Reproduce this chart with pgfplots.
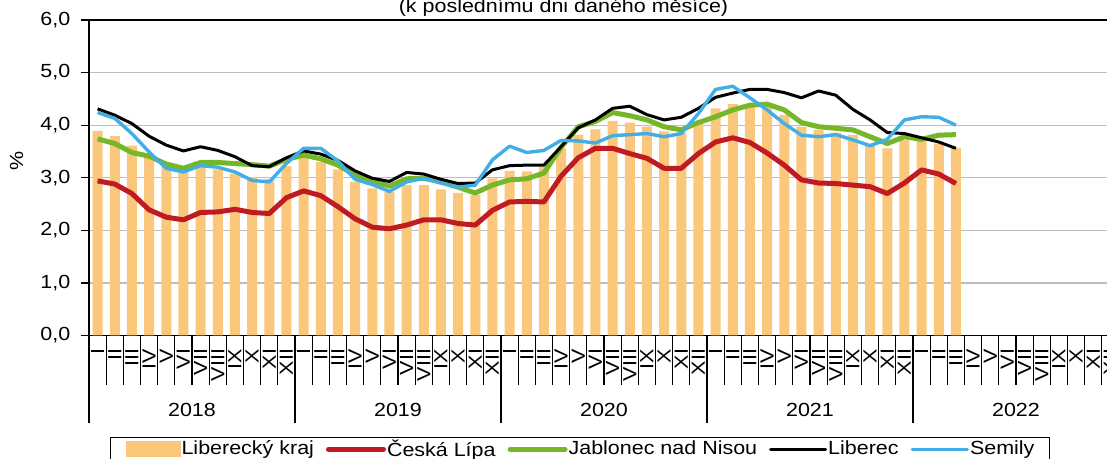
\documentclass[border=0pt]{standalone}
\usepackage{fontspec}
\setmainfont{Liberation Sans}[FakeStretch=1.13]
\usepackage{pgfplots}
\pgfplotsset{compat=1.18}
\usepackage{pgfplotstable}
\definecolor{barc}{RGB}{250,199,125}
\definecolor{redc}{RGB}{192,27,34}
\definecolor{greenc}{RGB}{118,183,42}
\definecolor{bluec}{RGB}{65,174,230}
\definecolor{gridc}{RGB}{190,190,190}
\pgfplotstableread{
i kraj cl jn lb se
0 3.89 2.94 3.74 4.31 4.24
1 3.79 2.88 3.65 4.19 4.13
2 3.61 2.70 3.48 4.03 3.84
3 3.42 2.39 3.41 3.79 3.49
4 3.20 2.25 3.26 3.62 3.18
5 3.14 2.20 3.18 3.51 3.11
6 3.21 2.34 3.29 3.59 3.23
7 3.16 2.35 3.29 3.52 3.20
8 3.08 2.40 3.27 3.40 3.11
9 3.01 2.34 3.25 3.23 2.95
10 2.98 2.32 3.22 3.21 2.92
11 3.22 2.62 3.35 3.38 3.27
12 3.39 2.75 3.43 3.51 3.56
13 3.30 2.66 3.36 3.45 3.56
14 3.16 2.45 3.24 3.33 3.32
15 2.92 2.22 3.05 3.13 2.97
16 2.80 2.06 2.94 2.99 2.87
17 2.73 2.03 2.84 2.93 2.74
18 2.86 2.10 2.98 3.10 2.92
19 2.86 2.20 2.99 3.07 2.99
20 2.78 2.20 2.92 2.97 2.90
21 2.71 2.13 2.82 2.89 2.82
22 2.67 2.10 2.71 2.90 2.86
23 2.99 2.38 2.86 3.15 3.34
24 3.13 2.54 2.96 3.23 3.60
25 3.12 2.55 2.98 3.24 3.48
26 3.21 2.54 3.09 3.24 3.52
27 3.56 3.03 3.58 3.59 3.71
28 3.82 3.38 3.97 3.95 3.70
29 3.92 3.56 4.07 4.10 3.66
30 4.08 3.56 4.24 4.32 3.80
31 4.05 3.46 4.18 4.36 3.82
32 3.97 3.37 4.10 4.20 3.84
33 3.88 3.18 3.97 4.10 3.78
34 3.86 3.18 3.91 4.15 3.84
35 4.05 3.46 4.05 4.32 4.22
36 4.32 3.68 4.16 4.53 4.68
37 4.40 3.76 4.29 4.61 4.74
38 4.40 3.67 4.38 4.68 4.52
39 4.36 3.47 4.40 4.68 4.29
40 4.19 3.24 4.29 4.62 4.03
41 3.97 2.96 4.05 4.52 3.81
42 3.91 2.90 3.97 4.65 3.78
43 3.86 2.89 3.94 4.57 3.82
44 3.81 2.86 3.91 4.30 3.72
45 3.65 2.83 3.78 4.10 3.61
46 3.56 2.70 3.65 3.86 3.73
47 3.72 2.90 3.78 3.84 4.10
48 3.72 3.15 3.73 3.76 4.16
49 3.65 3.07 3.81 3.68 4.15
50 3.57 2.89 3.82 3.56 4.00
}\data
\newcommand{\fs}{\fontsize{9.5}{11}\selectfont}
\begin{document}
\begin{tikzpicture}
\begin{axis}[
  at={(44.5pt,61.75pt)}, anchor=south west,
  width=515pt, height=157.75pt, scale only axis,
  xmin=-0.5, xmax=59.5, ymin=0, ymax=6,
  clip=false,
  axis line style={line width=0.75pt},
  ymajorgrids, major grid style={gridc, line width=0.6pt},
  tick align=outside,
  xtick pos=left, ytick pos=left,
  ytick={0,1,2,3,4,5,6},
  ytick style={/pgfplots/major tick length=3.8pt, line width=0.6pt, black},
  xtick={-0.5,0.5,...,59.5}, xticklabels={},
  major tick length=24.75pt,
  xtick style={line width=0.6pt, black},
  minor xtick={-0.5,11.5,23.5,35.5,47.5,59.5},
  minor tick length=44pt,
  extra x ticks={0,1,...,59},
  extra x tick labels={I,II,III,IV,V,VI,VII,VIII,IX,X,XI,XII,I,II,III,IV,V,VI,VII,VIII,IX,X,XI,XII,I,II,III,IV,V,VI,VII,VIII,IX,X,XI,XII,I,II,III,IV,V,VI,VII,VIII,IX,X,XI,XII,I,II,III,IV,V,VI,VII,VIII,IX,X,XI,XII},
  extra x tick style={major tick length=0pt, grid=none,
     tick label style={yshift=-6.5pt, rotate=90, anchor=east, inner sep=0pt}},
  tick label style={font=\fs},
  yticklabel style={anchor=east, inner sep=0pt, xshift=15.6pt},
  /pgf/number format/.cd, fixed, fixed zerofill, precision=1, use comma, assume math mode=true,
  /pgfplots/.cd,
  ylabel={\%}, ylabel style={at={(axis description cs:-0.0703,0.553)}, anchor=center, font=\fs},
  legend image code/.code={\draw[#1, line cap=round] (0pt,0pt) -- (27.5pt,0pt);},
  legend columns=-1,
  legend style={at={(axis description cs:0.4767,-0.3233)}, anchor=north,
     draw=black, line width=0.5pt, font=\fs, inner xsep=7.5pt, inner ysep=0.75pt,
     nodes={inner sep=0pt},
     /tikz/every odd column/.append style={column sep=0.5pt},
     /tikz/every even column/.append style={column sep=6pt}},
]
\addplot[ybar, bar width=5pt, fill=barc, draw=none,
  legend image code/.code={\fill[barc] (0pt,-4pt) rectangle (27.5pt,4pt);}]
  table[x=i, y=kraj]{\data};
\addplot[redc, line width=2.5pt, line join=round, mark=none] table[x=i, y=cl]{\data};
\addplot[greenc, line width=2.5pt, line join=round, mark=none] table[x=i, y=jn]{\data};
\addplot[black, line width=1.5pt, line join=round, mark=none] table[x=i, y=lb]{\data};
\addplot[bluec, line width=1.7pt, line join=round, mark=none] table[x=i, y=se]{\data};
\legend{Liberecký kraj, Česká Lípa, Jablonec nad Nisou, Liberec, Semily}
\node[font=\fs] at (axis cs:5.5,0) [yshift=-37pt] {2018};
\node[font=\fs] at (axis cs:17.5,0) [yshift=-37pt] {2019};
\node[font=\fs] at (axis cs:29.5,0) [yshift=-37pt] {2020};
\node[font=\fs] at (axis cs:41.5,0) [yshift=-37pt] {2021};
\node[font=\fs] at (axis cs:53.5,0) [yshift=-37pt] {2022};
\end{axis}
\node[font=\fs, anchor=base] at (281.75pt,223.15pt) {(k poslednímu dni daného měsíce)};
\pgfresetboundingbox
\path[use as bounding box] (0pt,0pt) rectangle (553.5pt,229.5pt);
\end{tikzpicture}
\end{document}
